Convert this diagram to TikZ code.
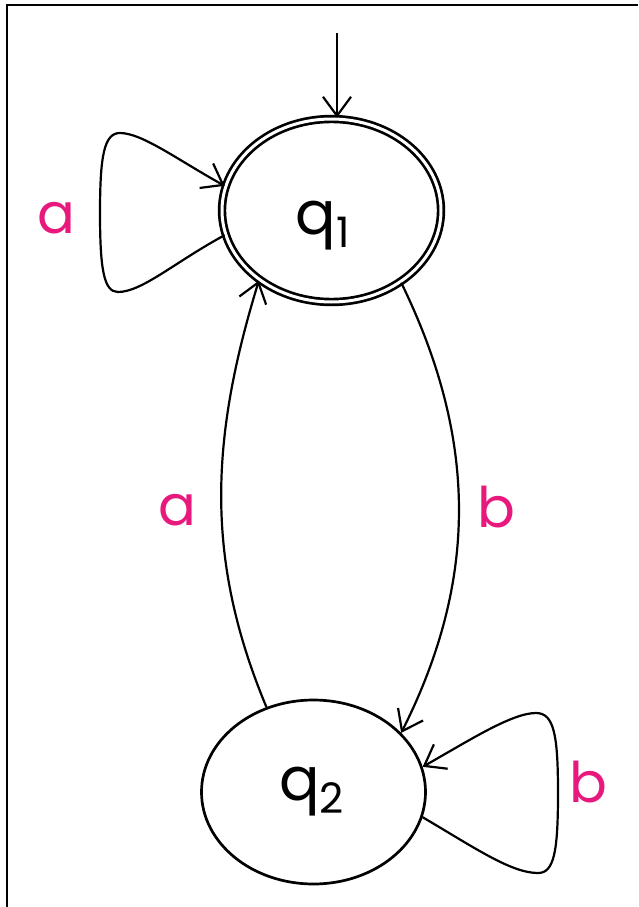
\documentclass[tikz,border=0pt]{standalone}
\usepackage{fontspec}
\setmainfont{Poppins}
\usetikzlibrary{arrows.meta,shapes.geometric}
\definecolor{lbl}{RGB}{232,25,125}
\tikzset{
  state/.style={ellipse, draw, line width=2.7pt, inner sep=0pt},
  edge/.style={line width=2.2pt, -{Straight Barb[length=19pt,width=28pt,line width=2.2pt]}},
  lab/.style={text=lbl, font=\fontsize{56}{60}\selectfont, inner sep=0pt},
  frame/.style={line width=2.2pt}
}
\newcommand{\stname}[3]{\makebox[0pt]{\hspace*{#2}\raisebox{#3}[0pt][0pt]{\fontsize{60}{64}\selectfont q\raisebox{-0.22em}{\fontsize{42}{44}\selectfont #1}}}}
\begin{document}
\begin{tikzpicture}[x=1pt,y=-1pt]
\useasboundingbox (0,0) rectangle (638,907);
\draw[frame] (638,5) -- (7,5) -- (7,907);
\node[state, double, double distance=3pt, minimum width=219pt, minimum height=183pt] (q1) at (331.5,210.5) {\stname{1}{-18pt}{-24pt}};
\node[state, minimum width=224pt, minimum height=184pt] (q2) at (313.5,792) {\stname{2}{-4pt}{-8pt}};
\coordinate (init) at (337,33);
\draw[edge] (init) -- (init |- q1.north);
\draw[edge] (q1.193) .. controls (175,262) and (142,292) .. (118,292)
  .. controls (104,292) and (100,270) .. (100,213)
  .. controls (100,156) and (104,133) .. (120,133)
  .. controls (142,133) and (178,160) .. (q1.167);
\draw[edge] (q1.-46) .. controls (478,440) and (478,580) .. (q2.34);
\draw[edge] (q2.119) .. controls (205,560) and (210,440) .. (q1.224);
\draw[edge] (q2.-13) .. controls (478,850) and (512,873) .. (538,873)
  .. controls (554,873) and (558,852) .. (558,793)
  .. controls (558,735) and (554,713) .. (536,713)
  .. controls (512,713) and (470,740) .. (q2.13);
\node[lab] (la1) at (56,218) {a};
\node[lab] (lb1) at (496,507) {b};
\node[lab] (la2) at (177,510) {a};
\node[lab] (lb2) at (588,782) {b};
\end{tikzpicture}
\end{document}
